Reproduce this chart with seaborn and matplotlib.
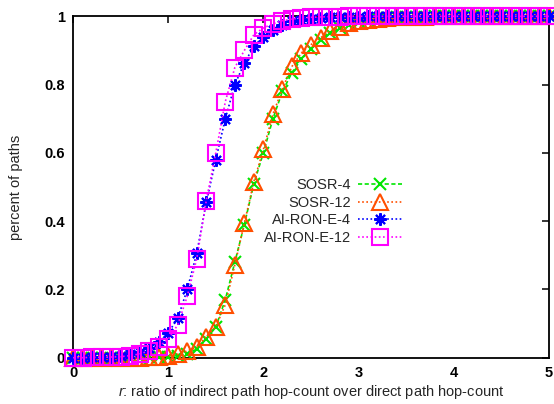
import numpy as np
import pandas as pd
import matplotlib
matplotlib.use("Agg")
import matplotlib.pyplot as plt
import seaborn as sns

# ---- data ----
r_values = [round(0.1 * i, 1) for i in range(51)]

sosr_4 = [0, 0, 0, 0, 0, 0, 0, 0, 0.001, 0.001,
          0.003, 0.006, 0.012, 0.025, 0.055, 0.09, 0.17, 0.28, 0.39, 0.51,
          0.60, 0.70, 0.78, 0.835, 0.875, 0.905, 0.93, 0.95, 0.965, 0.975,
          0.983, 0.988, 0.992, 0.995, 0.997, 0.998, 0.999, 0.999, 1, 1,
          1, 1, 1, 1, 1, 1, 1, 1, 1, 1, 1]
sosr_12 = [0, 0, 0, 0, 0, 0, 0, 0, 0.001, 0.002,
           0.005, 0.01, 0.02, 0.03, 0.062, 0.091, 0.155, 0.272, 0.394, 0.516,
           0.61, 0.713, 0.788, 0.853, 0.893, 0.917, 0.937, 0.956, 0.97, 0.98,
           0.985, 0.99, 0.993, 0.995, 0.997, 0.998, 0.999, 0.999, 1, 1,
           1, 1, 1, 1, 1, 1, 1, 1, 1, 1, 1]
ai_ron_e_4 = [0, 0, 0.001, 0.002, 0.003, 0.005, 0.01, 0.017, 0.028, 0.047,
              0.073, 0.115, 0.20, 0.306, 0.455, 0.58, 0.70, 0.80, 0.863, 0.912,
              0.94, 0.96, 0.975, 0.985, 0.99, 0.993, 0.995, 0.997, 0.998, 0.999,
              0.999, 1, 1, 1, 1, 1, 1, 1, 1, 1,
              1, 1, 1, 1, 1, 1, 1, 1, 1, 1, 1]
ai_ron_e_12 = [0, 0, 0.001, 0.001, 0.002, 0.003, 0.006, 0.011, 0.02, 0.032,
               0.054, 0.096, 0.18, 0.29, 0.46, 0.60, 0.75, 0.85, 0.90, 0.946,
               0.966, 0.978, 0.987, 0.992, 0.995, 0.997, 0.998, 0.999, 0.999, 1,
               1, 1, 1, 1, 1, 1, 1, 1, 1, 1,
               1, 1, 1, 1, 1, 1, 1, 1, 1, 1, 1]

series_names = ["SOSR-4", "SOSR-12", "AI-RON-E-4", "AI-RON-E-12"]
series_values = [sosr_4, sosr_12, ai_ron_e_4, ai_ron_e_12]

x_ticks = [0, 1, 2, 3, 4, 5]
y_ticks = [0, 0.2, 0.4, 0.6, 0.8, 1.0]
y_tick_labels = ["0", "0.2", "0.4", "0.6", "0.8", "1"]

# ---- style ----
sns.set_style("white")
plt.rcParams["font.family"] = ["Liberation Sans", "DejaVu Sans"]
plt.rcParams["mathtext.fontset"] = "custom"
plt.rcParams["mathtext.it"] = "Liberation Sans:italic"
plt.rcParams["mathtext.rm"] = "Liberation Sans"

colors = {"SOSR-4": "#00e600", "SOSR-12": "#ff4f00",
          "AI-RON-E-4": "#0000ff", "AI-RON-E-12": "#ff00ff"}
markers = {"SOSR-4": "x", "SOSR-12": "^",
           "AI-RON-E-4": (8, 2, 0), "AI-RON-E-12": "s"}
msizes = {"SOSR-4": 9, "SOSR-12": 11, "AI-RON-E-4": 9, "AI-RON-E-12": 11.5}
dashes = {"SOSR-4": (2.5, 1.5), "SOSR-12": (1, 1.5),
          "AI-RON-E-4": (1, 1.5), "AI-RON-E-12": (1, 1.5)}

df = pd.DataFrame({
    "r": np.tile(r_values, len(series_names)),
    "value": np.concatenate(series_values),
    "series": np.repeat(series_names, len(r_values)),
})

fig = plt.figure(figsize=(5.54, 4.04), dpi=100)
ax = fig.add_axes([73 / 554, 1 - 357.7 / 404, (549 - 73) / 554, (357.7 - 16.3) / 404])

for name in series_names:
    sub = df[df["series"] == name]
    sns.lineplot(data=sub, x="r", y="value", ax=ax, color=colors[name],
                 marker=markers[name], markersize=msizes[name],
                 markerfacecolor="none", markeredgecolor=colors[name],
                 markeredgewidth=1.5, linewidth=1.2, dashes=False,
                 label=name, clip_on=False, zorder=3)
    ax.lines[-1].set_dashes(dashes[name])

ax.set_xlim(0, 5)
ax.set_ylim(0, 1)
ax.set_xticks(x_ticks)
ax.set_xticklabels([str(t) for t in x_ticks])
ax.set_yticks(y_ticks)
ax.set_yticklabels(y_tick_labels)
for lab in ax.get_xticklabels() + ax.get_yticklabels():
    lab.set_fontweight("bold")
    lab.set_fontsize(10.5)
ax.tick_params(direction="in", length=5, width=1.1, top=True, right=True,
               pad=6, colors="black")
for s in ax.spines.values():
    s.set_visible(True)
    s.set_linewidth(1.3)
    s.set_color("black")

ax.set_xlabel("$r$: ratio of indirect path hop-count over direct path hop-count",
              fontsize=10.5, labelpad=2)
ax.set_ylabel("percent of paths", fontsize=10.5, labelpad=15)

leg = ax.legend(loc="upper right", bbox_to_anchor=(402 / 554, 1 - 178 / 404),
                bbox_transform=fig.transFigure, frameon=False, markerfirst=False,
                fontsize=10.5, handlelength=3.0, handletextpad=0.5,
                labelspacing=0.25, borderpad=0, borderaxespad=0)
for t in leg.get_texts():
    t.set_ha("right")

fig.savefig("out.png", dpi=100)
